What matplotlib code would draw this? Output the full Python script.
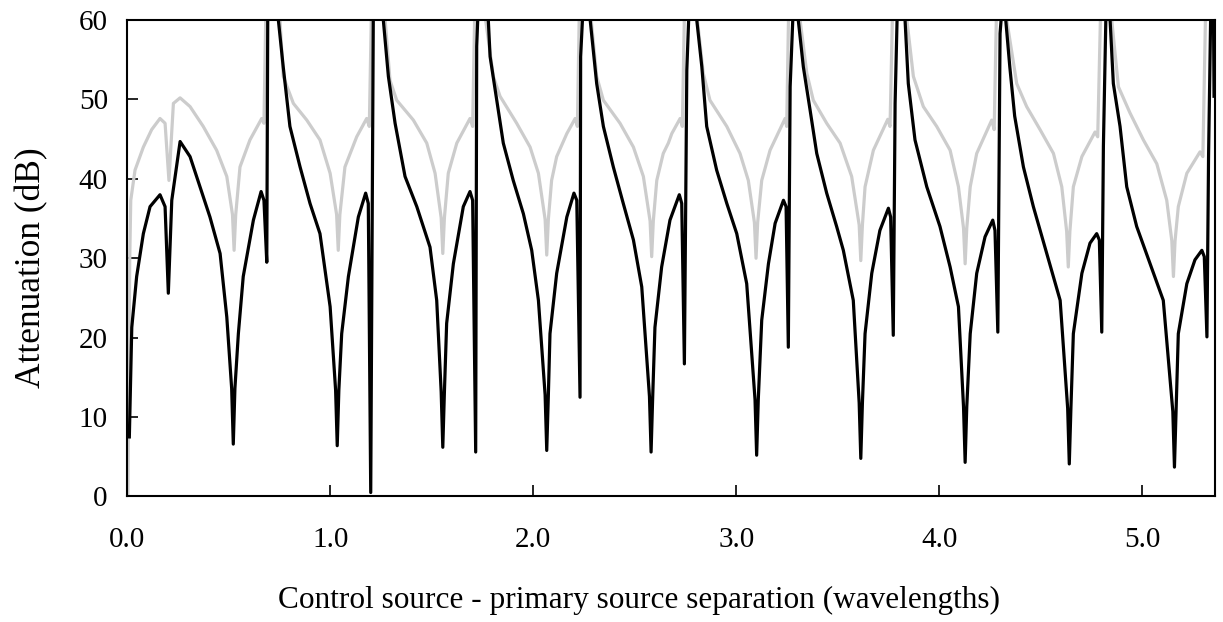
import matplotlib
matplotlib.use("Agg")
import matplotlib.pyplot as plt

# separation (wavelengths) and attenuation (dB)
# black curve
black_x = [0.010, 0.022, 0.046, 0.079, 0.112, 0.161, 0.186, 0.202, 0.219, 0.260,
           0.309, 0.358, 0.407, 0.457, 0.490, 0.514, 0.522, 0.530, 0.547, 0.571,
           0.621, 0.659, 0.673, 0.687, 0.692, 0.718, 0.744, 0.768, 0.801, 0.851,
           0.900, 0.949, 0.999, 1.026, 1.034, 1.042, 1.056, 1.089, 1.138, 1.174,
           1.187, 1.199, 1.212, 1.236, 1.261, 1.286, 1.319, 1.368, 1.426, 1.491,
           1.524, 1.546, 1.554, 1.562, 1.573, 1.606, 1.655, 1.688, 1.701, 1.716,
           1.721, 1.729, 1.750, 1.778, 1.787, 1.820, 1.852, 1.901, 1.951, 1.992,
           2.025, 2.058, 2.066, 2.074, 2.082, 2.115, 2.165, 2.200, 2.214, 2.230,
           2.233, 2.246, 2.265, 2.280, 2.312, 2.345, 2.394, 2.443, 2.493, 2.534,
           2.572, 2.580, 2.588, 2.599, 2.632, 2.673, 2.719, 2.731, 2.744, 2.756,
           2.768, 2.785, 2.805, 2.830, 2.854, 2.903, 2.953, 3.002, 3.051, 3.092,
           3.100, 3.108, 3.125, 3.158, 3.191, 3.232, 3.245, 3.256, 3.265, 3.281,
           3.293, 3.305, 3.330, 3.363, 3.396, 3.445, 3.494, 3.527, 3.576, 3.605,
           3.613, 3.621, 3.634, 3.667, 3.707, 3.749, 3.760, 3.773, 3.782, 3.793,
           3.810, 3.831, 3.847, 3.880, 3.938, 4.003, 4.053, 4.094, 4.119, 4.127,
           4.135, 4.152, 4.184, 4.225, 4.263, 4.274, 4.288, 4.299, 4.310, 4.318,
           4.327, 4.347, 4.371, 4.414, 4.463, 4.529, 4.595, 4.632, 4.640, 4.648,
           4.660, 4.702, 4.742, 4.775, 4.788, 4.800, 4.808, 4.821, 4.830, 4.841,
           4.857, 4.890, 4.923, 4.972, 5.038, 5.103, 5.150, 5.158, 5.166, 5.177,
           5.219, 5.259, 5.293, 5.305, 5.318, 5.326, 5.337, 5.345, 5.350, 5.353]
black_y = [7.5, 21.3, 27.7, 33.1, 36.5, 38.0, 36.5, 25.6, 37.3, 44.7,
           42.8, 39.0, 35.2, 30.6, 22.6, 13.6, 6.6, 13.6, 20.5, 27.7,
           34.8, 38.4, 37.3, 29.5, 62.0, 75.0, 60.0, 54.1, 46.6, 41.5,
           36.9, 33.1, 23.9, 13.4, 6.4, 13.4, 20.5, 27.7, 35.2, 38.2,
           36.9, 0.5, 62.0, 75.0, 60.0, 52.9, 47.0, 40.3, 36.5, 31.4,
           24.7, 13.2, 6.2, 13.2, 21.8, 29.3, 36.5, 38.4, 37.3, 5.6,
           56.7, 62.0, 75.0, 60.0, 55.4, 49.9, 44.5, 39.8, 35.6, 31.0,
           24.7, 12.8, 5.8, 12.8, 20.5, 28.1, 35.2, 38.2, 37.3, 12.5,
           55.4, 62.0, 75.0, 60.0, 52.0, 46.6, 41.5, 36.9, 32.3, 26.4,
           12.6, 5.6, 12.6, 21.3, 28.9, 34.8, 38.0, 36.9, 16.7, 53.7,
           62.0, 75.0, 60.0, 54.1, 46.6, 41.1, 36.9, 33.1, 26.8, 12.2,
           5.2, 12.2, 22.2, 29.3, 34.4, 37.3, 36.5, 18.8, 51.6, 62.0,
           70.0, 60.0, 54.1, 48.7, 43.2, 38.2, 34.0, 31.0, 24.7, 11.8,
           4.8, 11.8, 20.5, 28.1, 33.5, 36.3, 35.2, 20.3, 49.5, 62.0,
           72.0, 60.0, 52.0, 44.9, 39.0, 34.0, 28.9, 23.9, 11.3, 4.3,
           11.3, 20.5, 28.1, 32.7, 34.8, 33.5, 20.7, 58.3, 62.0, 66.0,
           60.0, 54.1, 47.9, 41.5, 36.5, 30.6, 24.7, 11.1, 4.1, 11.1,
           20.5, 28.1, 31.9, 33.1, 32.3, 20.7, 44.1, 62.0, 68.0, 60.0,
           52.0, 46.6, 39.0, 34.0, 29.3, 24.7, 10.7, 3.7, 10.7, 20.5,
           26.8, 29.8, 31.0, 30.2, 20.1, 42.8, 62.0, 70.0, 62.0, 50.4]

# grey curve
grey_x = [0.003, 0.012, 0.017, 0.038, 0.079, 0.120, 0.161, 0.186, 0.205, 0.227,
          0.260, 0.309, 0.374, 0.440, 0.490, 0.518, 0.526, 0.534, 0.555, 0.604,
          0.662, 0.673, 0.683, 0.715, 0.752, 0.768, 0.818, 0.884, 0.949, 0.999,
          1.031, 1.039, 1.047, 1.072, 1.130, 1.179, 1.192, 1.203, 1.230, 1.270,
          1.294, 1.327, 1.409, 1.475, 1.516, 1.546, 1.554, 1.562, 1.581, 1.623,
          1.688, 1.701, 1.712, 1.745, 1.765, 1.803, 1.836, 1.918, 1.984, 2.025,
          2.058, 2.066, 2.074, 2.090, 2.115, 2.165, 2.206, 2.217, 2.227, 2.260,
          2.285, 2.312, 2.345, 2.427, 2.493, 2.542, 2.575, 2.583, 2.591, 2.608,
          2.640, 2.665, 2.682, 2.723, 2.734, 2.745, 2.775, 2.808, 2.837, 2.870,
          2.953, 3.018, 3.059, 3.089, 3.097, 3.105, 3.125, 3.166, 3.240, 3.248,
          3.258, 3.285, 3.314, 3.347, 3.379, 3.445, 3.511, 3.568, 3.605, 3.613,
          3.621, 3.634, 3.675, 3.746, 3.757, 3.770, 3.800, 3.840, 3.872, 3.921,
          3.987, 4.053, 4.094, 4.119, 4.127, 4.135, 4.152, 4.184, 4.258, 4.270,
          4.282, 4.310, 4.332, 4.381, 4.430, 4.496, 4.562, 4.603, 4.627, 4.635,
          4.643, 4.660, 4.702, 4.767, 4.780, 4.795, 4.820, 4.849, 4.882, 4.939,
          5.005, 5.071, 5.120, 5.145, 5.153, 5.161, 5.177, 5.219, 5.284, 5.298,
          5.312, 5.340, 5.358]
grey_y = [0.0, 30.0, 37.3, 41.1, 44.0, 46.2, 47.6, 47.0, 39.8, 49.5,
          50.2, 49.1, 46.6, 43.6, 40.3, 35.5, 31.0, 35.5, 41.5, 44.9,
          47.6, 47.0, 62.0, 75.0, 60.0, 52.9, 49.5, 47.4, 44.9, 40.7,
          35.5, 31.0, 35.5, 41.5, 45.3, 47.6, 46.6, 62.0, 75.0, 60.0,
          52.4, 49.9, 47.4, 44.5, 40.7, 35.1, 30.6, 35.1, 40.7, 44.5,
          47.6, 46.6, 62.0, 75.0, 60.0, 52.9, 50.4, 47.0, 44.0, 40.7,
          34.9, 30.4, 34.9, 39.8, 42.8, 45.7, 47.6, 46.6, 62.0, 75.0,
          60.0, 52.9, 49.9, 47.0, 44.0, 40.3, 34.7, 30.2, 34.7, 39.8,
          43.2, 44.5, 45.7, 47.6, 46.6, 62.0, 75.0, 60.0, 53.3, 49.9,
          46.6, 43.2, 39.8, 34.5, 30.0, 34.5, 39.8, 43.6, 47.6, 46.6,
          62.0, 72.0, 60.0, 53.3, 49.9, 47.0, 44.5, 40.3, 34.2, 29.7,
          34.2, 39.0, 43.6, 47.5, 46.6, 62.0, 72.0, 60.0, 52.9, 49.1,
          46.6, 43.6, 39.0, 33.8, 29.3, 33.8, 39.0, 43.2, 47.4, 46.2,
          62.0, 68.0, 60.0, 52.0, 49.1, 46.2, 43.2, 39.0, 33.4, 28.9,
          33.4, 39.0, 42.8, 45.9, 45.3, 62.0, 68.0, 60.0, 51.6, 48.3,
          44.9, 41.9, 37.3, 32.2, 27.7, 32.2, 36.5, 40.7, 43.4, 42.8,
          62.0, 70.0, 65.0]

x_ticks = [0, 1, 2, 3, 4, 5]
x_labels = ["0.0", "1.0", "2.0", "3.0", "4.0", "5.0"]
y_ticks = [0, 10, 20, 30, 40, 50, 60]

plt.rcParams['font.family'] = ['Liberation Serif', 'DejaVu Serif']

fig = plt.figure(figsize=(12.23, 6.22), dpi=100)
ax = fig.add_axes([0.1041, 0.2018, 0.8894, 0.766])

ax.plot(grey_x, grey_y, color='#cccccc', lw=2.3, solid_joinstyle='round')
ax.plot(black_x, black_y, color='black', lw=2.3, solid_joinstyle='round')

ax.set_xlim(0, 5.358)
ax.set_ylim(0, 60)
ax.set_xticks(x_ticks)
ax.set_xticklabels(x_labels)
ax.set_yticks(y_ticks)
ax.tick_params(direction='in', length=8, width=1.2, labelsize=21)
ax.tick_params(axis='x', pad=22)
ax.tick_params(axis='y', pad=14)
for s in ax.spines.values():
    s.set_linewidth(1.5)

# the labels in the reference sit a bit off the axes centre
ax.set_xlabel("Control source - primary source separation (wavelengths)", fontsize=22.5, labelpad=24, x=0.470)
ax.set_ylabel("Attenuation (dB)", fontsize=25.5, labelpad=22, y=0.480)

fig.savefig("out.png", dpi=100)
